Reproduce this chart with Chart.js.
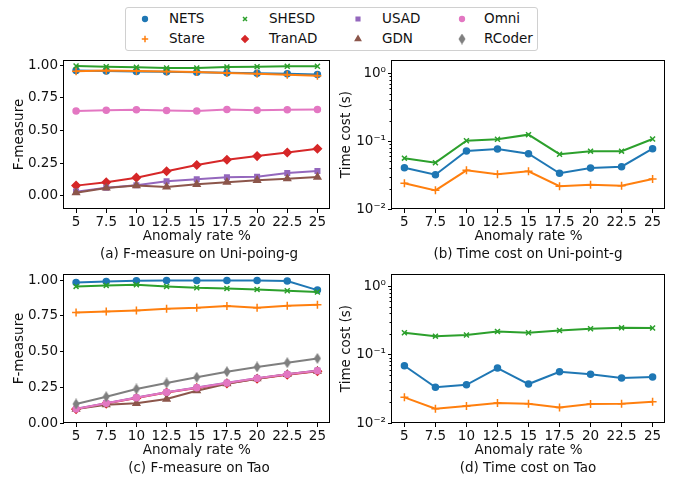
<!DOCTYPE html>
<html>
<head>
<meta charset="utf-8">
<script src="https://cdn.jsdelivr.net/npm/chart.js@4.4.1/dist/chart.umd.min.js"></script>
<style>
  body { margin: 0; background: #fff; font-family: "DejaVu Sans", sans-serif; }
  #fig { position: relative; width: 675px; height: 478px; overflow: hidden; }
  canvas.panel { position: absolute; }
  .cap { position: absolute; font-size: 13.5px; line-height: 15px; color: #111; white-space: nowrap; transform: translateX(-50%); }
  #legend { position: absolute; left: 125px; top: 7px; width: 411px; height: 42px; border: 1px solid #d0d0d0; border-radius: 3px; background: rgba(255,255,255,0.8); }
  .li { position: absolute; font-size: 13.5px; line-height: 15px; color: #111; white-space: nowrap; }
  .lm { position: absolute; }
</style>
</head>
<body>
<div id="fig">
  <div id="legend"></div>
  <canvas class="panel" id="chartA" width="335" height="199" style="left:0;top:50px"></canvas>
  <canvas class="panel" id="chartB" width="340" height="199" style="left:335px;top:50px"></canvas>
  <canvas class="panel" id="chartC" width="335" height="199" style="left:0;top:264px"></canvas>
  <canvas class="panel" id="chartD" width="340" height="199" style="left:335px;top:264px"></canvas>
  <div class="cap" style="left:199px;top:246px">(a) F-measure on Uni-poing-g</div>
  <div class="cap" style="left:528px;top:246px">(b) Time cost on Uni-point-g</div>
  <div class="cap" style="left:199px;top:460px">(c) F-measure on Tao</div>
  <div class="cap" style="left:528px;top:460px">(d) Time cost on Tao</div>
</div>
<script>
// anomaly rates on the x axis
const rates = [5, 7.5, 10, 12.5, 15, 17.5, 20, 22.5, 25];
const methods = ['NETS', 'Stare', 'SHESD', 'TranAD', 'USAD', 'GDN', 'Omni', 'RCoder'];

// (a) F-measure on Uni-poing-g
const netsUniF = [0.96, 0.957, 0.953, 0.95, 0.947, 0.943, 0.94, 0.936, 0.93];
const stareUniF = [0.955, 0.96, 0.957, 0.952, 0.948, 0.941, 0.935, 0.928, 0.92];
const shesdUniF = [0.995, 0.99, 0.985, 0.98, 0.98, 0.988, 0.99, 0.992, 0.993];
const tranadUniF = [0.079, 0.104, 0.14, 0.189, 0.237, 0.277, 0.305, 0.333, 0.361];
const usadUniF = [0.033, 0.063, 0.081, 0.112, 0.127, 0.143, 0.147, 0.176, 0.191];
const gdnUniF = [0.025, 0.061, 0.079, 0.069, 0.089, 0.105, 0.12, 0.132, 0.145];
const omniUniF = [0.651, 0.656, 0.659, 0.654, 0.651, 0.662, 0.656, 0.659, 0.662];

// (b) time cost on Uni-point-g (s)
const netsUniT = [0.0405, 0.0319, 0.0713, 0.0763, 0.065, 0.0335, 0.0401, 0.0419, 0.077];
const stareUniT = [0.0239, 0.0188, 0.0371, 0.0324, 0.0358, 0.0216, 0.0228, 0.022, 0.0276];
const shesdUniT = [0.056, 0.048, 0.101, 0.106, 0.124, 0.064, 0.071, 0.071, 0.107];

// (c) F-measure on Tao
const netsTaoF = [0.984, 0.991, 0.995, 0.998, 0.998, 0.998, 0.998, 0.993, 0.93];
const stareTaoF = [0.774, 0.781, 0.788, 0.799, 0.806, 0.818, 0.806, 0.82, 0.827];
const shesdTaoF = [0.956, 0.963, 0.967, 0.956, 0.946, 0.942, 0.935, 0.925, 0.916];
const tranadTaoF = [0.097, 0.136, 0.175, 0.213, 0.245, 0.277, 0.31, 0.338, 0.362];
const usadTaoF = [0.099, 0.139, 0.178, 0.216, 0.248, 0.281, 0.314, 0.342, 0.367];
const gdnTaoF = [0.098, 0.128, 0.138, 0.168, 0.226, 0.275, 0.31, 0.341, 0.364];
const omniTaoF = [0.098, 0.138, 0.177, 0.215, 0.247, 0.28, 0.313, 0.341, 0.366];
const rcoderTaoF = [0.133, 0.184, 0.238, 0.28, 0.32, 0.359, 0.392, 0.422, 0.452];

// (d) time cost on Tao (s)
const netsTaoT = [0.0687, 0.0332, 0.0362, 0.0635, 0.0371, 0.0561, 0.0514, 0.0454, 0.047];
const stareTaoT = [0.0237, 0.0162, 0.0177, 0.0196, 0.0191, 0.0169, 0.0189, 0.0191, 0.0205];
const shesdTaoT = [0.208, 0.186, 0.193, 0.218, 0.208, 0.225, 0.238, 0.246, 0.244];

const fTicks = [0, 0.25, 0.5, 0.75, 1];
const logTicks = [0.01, 0.1, 1];
const logLabels = { 0.01: '10\u207B\u00B2', 0.1: '10\u207B\u00B9', 1: '10\u2070' };

// thin diamond for RCoder
const thinDiamond = document.createElement('canvas');
thinDiamond.width = 8; thinDiamond.height = 11;
(function () {
  const c = thinDiamond.getContext('2d');
  c.fillStyle = '#7f7f7f';
  c.beginPath(); c.moveTo(4, 0); c.lineTo(7.5, 5.5); c.lineTo(4, 11); c.lineTo(0.5, 5.5); c.closePath(); c.fill();
})();

const styles = {
  NETS:   { color: '#1f77b4', point: 'circle', r: 3 },
  Stare:  { color: '#ff7f0e', point: 'cross', r: 4 },
  SHESD:  { color: '#2ca02c', point: 'crossRot', r: 3.5 },
  TranAD: { color: '#d62728', point: 'rectRot', r: 4 },
  USAD:   { color: '#9467bd', point: 'rect', r: 3.2 },
  GDN:    { color: '#8c564b', point: 'triangle', r: 3.8 },
  Omni:   { color: '#e377c2', point: 'circle', r: 3 },
  RCoder: { color: '#7f7f7f', point: thinDiamond, r: 4 }
};

Chart.defaults.font.family = '"DejaVu Sans", sans-serif';
Chart.defaults.font.size = 13.5;
Chart.defaults.color = '#111';

function series(name, values) {
  const s = styles[name];
  return {
    label: name,
    data: rates.map((x, i) => ({ x: x, y: values[i] })),
    borderColor: s.color,
    backgroundColor: s.color,
    pointStyle: s.point,
    pointRadius: s.r,
    pointBorderWidth: 1.5,
    borderWidth: 2,
    order: 10 - methods.indexOf(name)
  };
}

const framePlugin = {
  id: 'frame',
  afterDraw(chart) {
    const { ctx, chartArea: a } = chart;
    ctx.save();
    ctx.strokeStyle = '#000';
    ctx.lineWidth = 1;
    const l = Math.round(a.left) - 0.5, t = Math.round(a.top) + 0.5;
    const r = Math.round(a.right) - 0.5, b = Math.round(a.bottom) - 0.5;
    ctx.strokeRect(l, t, r - l, b - t);
    const y = chart.scales.y;
    if (y.type === 'logarithmic') {
      ctx.beginPath();
      for (const d of logTicks) {
        for (let k = 2; k <= 9; k++) {
          const v = k * d;
          if (v > y.max) break;
          const py = Math.round(y.getPixelForValue(v)) + 0.5;
          ctx.moveTo(l, py); ctx.lineTo(l - 2, py);
        }
      }
      ctx.stroke();
    }
    ctx.restore();
  }
};

function makeChart(id, datasets, logY, yMin, yMax, yTitle, leftPad, yWidth, rightPad) {
  const yScale = logY ? {
    type: 'logarithmic',
    min: yMin, max: yMax,
    afterBuildTicks: (s) => { s.ticks = logTicks.map(v => ({ value: v, major: true })); },
    ticks: { callback: (v) => logLabels[v] || '', padding: 2, color: '#111', autoSkip: false }
  } : {
    type: 'linear',
    min: yMin, max: yMax,
    afterBuildTicks: (s) => { s.ticks = fTicks.map(v => ({ value: v })); },
    ticks: { callback: (v) => v.toFixed(2), padding: 2, color: '#111' }
  };
  Object.assign(yScale, {
    afterFit: (s) => { s.width = yWidth; },
    border: { display: false },
    grid: { drawOnChartArea: false, drawTicks: true, tickLength: 4, color: '#000' },
    title: { display: true, text: yTitle, color: '#111', padding: { top: 3, bottom: 0 } }
  });
  return new Chart(document.getElementById(id), {
    type: 'line',
    data: { datasets: datasets },
    options: {
      responsive: false,
      animation: false,
      layout: { padding: { top: 10, left: leftPad, right: rightPad, bottom: 0 } },
      plugins: { legend: { display: false }, tooltip: { enabled: false } },
      scales: {
        x: {
          type: 'linear',
          min: 4, max: 26,
          afterBuildTicks: (s) => { s.ticks = rates.map(v => ({ value: v })); },
          afterFit: (s) => { s.height = 40; },
          ticks: { callback: (v) => String(v), padding: 1, color: '#111', maxRotation: 0, autoSkip: false },
          border: { display: false },
          grid: { drawOnChartArea: false, drawTicks: true, tickLength: 4, color: '#000' },
          title: { display: true, text: 'Anomaly rate %', color: '#111', padding: { top: 2, bottom: 4 } }
        },
        y: yScale
      }
    },
    plugins: [framePlugin]
  });
}

makeChart('chartA', [
  series('NETS', netsUniF), series('Stare', stareUniF), series('SHESD', shesdUniF),
  series('TranAD', tranadUniF), series('USAD', usadUniF), series('GDN', gdnUniF),
  series('Omni', omniUniF)
], false, -0.1, 1.04, 'F-measure', 8, 56, 1);

makeChart('chartB', [
  series('NETS', netsUniT), series('Stare', stareUniT), series('SHESD', shesdUniT)
], true, 0.01, 1.55, 'Time cost (s)', 0, 57, 10);

makeChart('chartC', [
  series('NETS', netsTaoF), series('Stare', stareTaoF), series('SHESD', shesdTaoF),
  series('TranAD', tranadTaoF), series('USAD', usadTaoF), series('GDN', gdnTaoF),
  series('Omni', omniTaoF), series('RCoder', rcoderTaoF)
], false, 0, 1.042, 'F-measure', 8, 56, 1);

makeChart('chartD', [
  series('NETS', netsTaoT), series('Stare', stareTaoT), series('SHESD', shesdTaoT)
], true, 0.01, 1.5, 'Time cost (s)', 0, 57, 10);

// shared legend, two rows, filled column by column
const legend = document.getElementById('legend');
const colMarkX = [19, 119, 232, 336];
const colTextX = [43, 143, 256, 358];
const rowY = [11, 31];
methods.forEach((name, i) => {
  const col = Math.floor(i / 2), row = i % 2;
  const s = styles[name];
  const cv = document.createElement('canvas');
  cv.width = 14; cv.height = 14; cv.className = 'lm';
  cv.style.left = (colMarkX[col] - 7) + 'px';
  cv.style.top = (rowY[row] - 7) + 'px';
  legend.appendChild(cv);
  const c = cv.getContext('2d');
  c.fillStyle = s.color; c.strokeStyle = s.color; c.lineWidth = 1.5;
  if (Chart.helpers && Chart.helpers.drawPoint) {
    Chart.helpers.drawPoint(c, { pointStyle: s.point, radius: s.r * 0.8, borderWidth: 1.5, rotation: 0 }, 7, 7);
  }
  const t = document.createElement('div');
  t.className = 'li';
  t.textContent = name;
  t.style.left = colTextX[col] + 'px';
  t.style.top = (rowY[row] - 8) + 'px';
  legend.appendChild(t);
});
</script>
</body>
</html>
